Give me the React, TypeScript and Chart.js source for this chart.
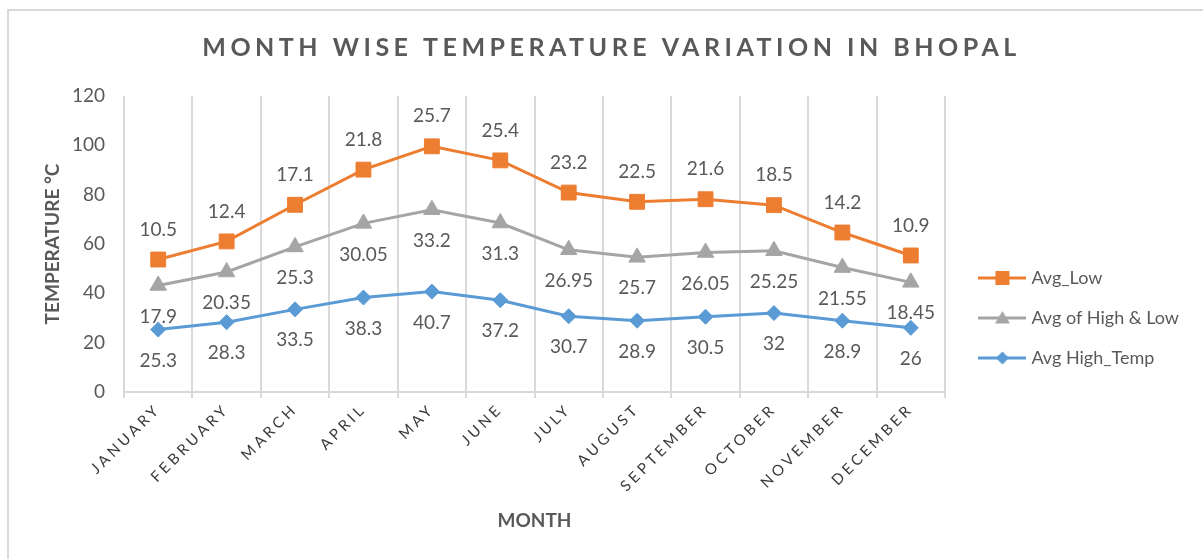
import React, { useEffect, useRef } from 'react';
import { Chart, registerables } from 'chart.js';

Chart.register(...registerables);

const months = ['JANUARY', 'FEBRUARY', 'MARCH', 'APRIL', 'MAY', 'JUNE', 'JULY', 'AUGUST', 'SEPTEMBER', 'OCTOBER', 'NOVEMBER', 'DECEMBER'];
const avgHighTemp = [25.3, 28.3, 33.5, 38.3, 40.7, 37.2, 30.7, 28.9, 30.5, 32, 28.9, 26];
const avgHighLow = [17.9, 20.35, 25.3, 30.05, 33.2, 31.3, 26.95, 25.7, 26.05, 25.25, 21.55, 18.45];
const avgLow = [10.5, 12.4, 17.1, 21.8, 25.7, 25.4, 23.2, 22.5, 21.6, 18.5, 14.2, 10.9];
const yMin = 0;
const yMax = 120;
const yStep = 20;

const BLUE = '#5B9BD5';
const GRAY = '#A5A5A5';
const ORANGE = '#ED7D31';
const TEXT = '#595959';
const GRID = '#D9D9D9';
const FONT = 'Lato';

const W = 1203;
const H = 559;
const PAD_LEFT = 34;
const PAD_RIGHT = 14;
const PLOT_LEFT = 124;
const PLOT_RIGHT = 945;
const PLOT_BOTTOM = 392;

function legendIcon(color: string, shape: 'rect' | 'triangle' | 'diamond'): HTMLCanvasElement {
  const c = document.createElement('canvas');
  c.width = 48;
  c.height = 20;
  const g = c.getContext('2d')!;
  g.strokeStyle = color;
  g.fillStyle = color;
  g.lineWidth = 3;
  g.beginPath();
  g.moveTo(0, 10);
  g.lineTo(48, 10);
  g.stroke();
  g.beginPath();
  if (shape === 'rect') {
    g.rect(24 - 7, 10 - 7, 14, 14);
  } else if (shape === 'triangle') {
    g.moveTo(24, 3);
    g.lineTo(31.5, 15.5);
    g.lineTo(16.5, 15.5);
    g.closePath();
  } else {
    g.moveTo(24, 3.5);
    g.lineTo(30.5, 10);
    g.lineTo(24, 16.5);
    g.lineTo(17.5, 10);
    g.closePath();
  }
  g.fill();
  return c;
}

const dataLabelsPlugin = {
  id: 'dataLabels',
  afterDatasetsDraw(chart: any) {
    const ctx = chart.ctx;
    ctx.save();
    ctx.font = `19px ${FONT}`;
    ctx.fillStyle = TEXT;
    ctx.textAlign = 'center';
    ctx.textBaseline = 'middle';
    chart.data.datasets.forEach((ds: any, di: number) => {
      const meta = chart.getDatasetMeta(di);
      const off = ds.labelOffset || 0;
      meta.data.forEach((pt: any, i: number) => {
        ctx.fillText(String(ds.data[i]), pt.x, pt.y + off);
      });
    });
    ctx.restore();
  },
};

const spacingPlugin = {
  id: 'letterSpacing',
  beforeDraw(chart: any) {
    const ctx = chart.ctx;
    const xs = chart.scales.x;
    if (xs && !xs.__spaced) {
      const orig = xs.drawLabels.bind(xs);
      xs.drawLabels = (area: any) => {
        ctx.save();
        (ctx as any).letterSpacing = '3.5px';
        orig(area);
        ctx.restore();
      };
      xs.__spaced = true;
    }
    const tb = chart.titleBlock;
    if (tb && !tb.__spaced) {
      const origT = tb.draw.bind(tb);
      tb.draw = (area: any) => {
        ctx.save();
        (ctx as any).letterSpacing = '4.5px';
        origT(area);
        ctx.restore();
      };
      tb.__spaced = true;
    }
  },
};

export default function App() {
  const ref = useRef<HTMLCanvasElement | null>(null);

  useEffect(() => {
    if (!ref.current) return;
    const icons = [legendIcon(BLUE, 'diamond'), legendIcon(GRAY, 'triangle'), legendIcon(ORANGE, 'rect')];
    const chart = new Chart(ref.current, {
      type: 'line',
      data: {
        labels: months,
        datasets: [
          {
            label: 'Avg High_Temp',
            data: avgHighTemp,
            borderColor: BLUE,
            backgroundColor: BLUE,
            borderWidth: 3,
            pointStyle: 'rectRot',
            pointRadius: 7.5,
            pointBorderWidth: 1,
            fill: false,
            tension: 0,
            labelOffset: 31,
          } as any,
          {
            label: 'Avg of High & Low',
            data: avgHighLow,
            borderColor: GRAY,
            backgroundColor: GRAY,
            borderWidth: 3,
            pointStyle: 'triangle',
            pointRadius: 9.5,
            pointBorderWidth: 1,
            fill: false,
            tension: 0,
            labelOffset: 31,
          } as any,
          {
            label: 'Avg_Low',
            data: avgLow,
            borderColor: ORANGE,
            backgroundColor: ORANGE,
            borderWidth: 3,
            pointStyle: 'rect',
            pointRadius: 10.5,
            pointBorderWidth: 1,
            fill: false,
            tension: 0,
            labelOffset: -30,
          } as any,
        ],
      },
      options: {
        animation: false,
        responsive: false,
        devicePixelRatio: 1,
        layout: { padding: { left: PAD_LEFT, right: PAD_RIGHT, top: 0, bottom: 0 } },
        plugins: {
          tooltip: { enabled: false },
          title: {
            display: true,
            text: 'MONTH WISE TEMPERATURE VARIATION IN BHOPAL',
            color: TEXT,
            font: { family: FONT, size: 25, weight: 'bold' },
            padding: { top: 33, bottom: 33 },
          },
          legend: {
            display: true,
            position: 'right',
            reverse: true,
            maxWidth: 400,
            title: { display: true, text: '', padding: { top: 62.6, bottom: 0 }, font: { size: 12 } },
            labels: {
              usePointStyle: true,
              pointStyleWidth: 40,
              padding: 22,
              color: TEXT,
              font: { family: FONT, size: 18 },
              generateLabels: (ch: any) =>
                ch.data.datasets.map((ds: any, i: number) => ({
                  text: ds.label,
                  pointStyle: icons[i],
                  fillStyle: 'transparent',
                  strokeStyle: 'transparent',
                  lineWidth: 0,
                  hidden: false,
                  datasetIndex: i,
                  fontColor: TEXT,
                })),
            },
          },
        },
        scales: {
          x: {
            type: 'category',
            offset: true,
            grid: { display: true, offset: true, color: GRID, lineWidth: 2, tickLength: 6, drawOnChartArea: true },
            border: { display: true, color: GRID, width: 2 },
            ticks: {
              autoSkip: false,
              minRotation: 45,
              maxRotation: 45,
              color: '#3A3A3A',
              padding: 2,
              font: { family: FONT, size: 15 },
            },
            title: {
              display: true,
              text: 'MONTH',
              color: TEXT,
              font: { family: FONT, size: 19, weight: 'bold' },
              padding: { top: 0, bottom: 27 },
            },
            afterFit: (s: any) => {
              s.height = H - PLOT_BOTTOM;
            },
          },
          y: {
            type: 'linear',
            stacked: true,
            min: yMin,
            max: yMax,
            grid: { display: false, drawTicks: false },
            border: { display: false },
            ticks: {
              stepSize: yStep,
              color: TEXT,
              padding: 19,
              font: { family: FONT, size: 19 },
            },
            title: {
              display: true,
              text: 'TEMPERATURE °C',
              color: TEXT,
              font: { family: FONT, size: 19, weight: 'bold' },
              padding: { top: 7, bottom: 0 },
            },
            afterFit: (s: any) => {
              s.width = PLOT_LEFT - PAD_LEFT;
            },
          },
          y2: {
            type: 'linear',
            position: 'right',
            display: true,
            grid: { display: false, drawTicks: false },
            border: { display: false },
            ticks: { display: false },
            afterFit: (s: any) => {
              const lw = s.chart.legend ? s.chart.legend.width : 0;
              s.width = Math.max(0, W - PAD_RIGHT - lw - PLOT_RIGHT);
            },
          },
        },
      },
      plugins: [dataLabelsPlugin, spacingPlugin],
    } as any);
    return () => chart.destroy();
  }, []);

  return (
    <div style={{ position: 'absolute', left: 0, top: 0, width: W, height: H, background: '#fff' }}>
      <div
        style={{
          position: 'absolute',
          left: 7,
          top: 9,
          right: 0,
          bottom: 0,
          borderLeft: `2px solid ${GRID}`,
          borderTop: `2px solid ${GRID}`,
        }}
      />
      <canvas ref={ref} width={W} height={H} style={{ position: 'absolute', left: 0, top: 0, width: W, height: H }} />
    </div>
  );
}
